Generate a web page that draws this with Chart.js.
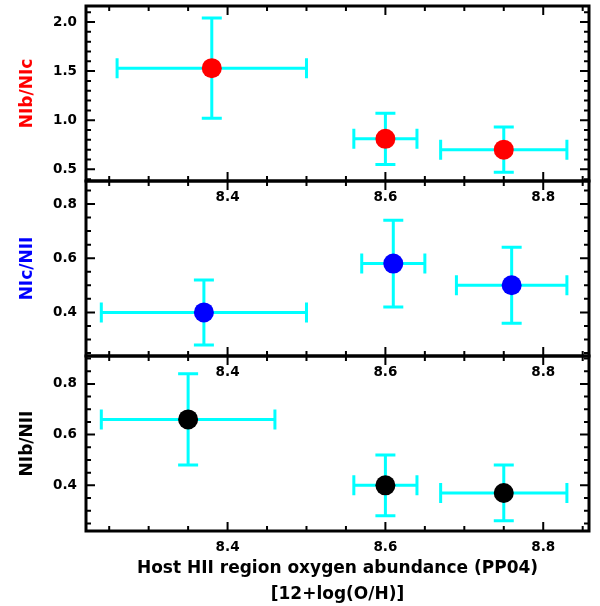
<!DOCTYPE html>
<html>
<head>
<meta charset="utf-8">
<script src="https://cdn.jsdelivr.net/npm/chart.js@4.4.1/dist/chart.umd.min.js"></script>
<style>
  body { margin: 0; width: 600px; height: 606px; overflow: hidden; position: relative; background: #fff; }
  canvas { position: absolute; left: 0; }
</style>
</head>
<body>
<canvas id="p1" width="600" height="211" style="top:0px"></canvas>
<canvas id="p2" width="600" height="211" style="top:175px"></canvas>
<canvas id="p3" width="600" height="256" style="top:350px"></canvas>
<script>
// shared x axis: host HII region oxygen abundance
var xTicks = [8.4, 8.6, 8.8];

// panel 1: NIb/NIc
var abund1 = [8.38, 8.60, 8.75];
var abund1Low = [8.26, 8.56, 8.67];
var abund1High = [8.50, 8.64, 8.83];
var ratio1 = [1.53, 0.81, 0.70];
var ratio1Low = [1.02, 0.55, 0.47];
var ratio1High = [2.04, 1.07, 0.93];
var yTicks1 = [0.5, 1.0, 1.5, 2.0];

// panel 2: NIc/NII
var abund2 = [8.37, 8.61, 8.76];
var abund2Low = [8.24, 8.57, 8.69];
var abund2High = [8.50, 8.65, 8.83];
var ratio2 = [0.40, 0.58, 0.50];
var ratio2Low = [0.28, 0.42, 0.36];
var ratio2High = [0.52, 0.74, 0.64];
var yTicks2 = [0.4, 0.6, 0.8];

// panel 3: NIb/NII
var abund3 = [8.35, 8.60, 8.75];
var abund3Low = [8.24, 8.56, 8.67];
var abund3High = [8.46, 8.64, 8.83];
var ratio3 = [0.66, 0.40, 0.37];
var ratio3Low = [0.48, 0.28, 0.26];
var ratio3High = [0.84, 0.52, 0.48];
var yTicks3 = [0.4, 0.6, 0.8];

var FONT = 'DejaVu Sans';

// cyan error bars with caps, drawn under the points
var errorBarPlugin = {
  id: 'errorBars',
  beforeDatasetsDraw: function(chart) {
    var ctx = chart.ctx, sx = chart.scales.x, sy = chart.scales.y;
    var cap = 10;
    ctx.save();
    ctx.strokeStyle = '#00ffff';
    ctx.lineWidth = 3;
    chart.data.datasets.forEach(function(ds) {
      var e = ds.errorBars;
      ds.data.forEach(function(p, i) {
        var px = sx.getPixelForValue(p.x), py = sy.getPixelForValue(p.y);
        var x0 = sx.getPixelForValue(e.xLow[i]), x1 = sx.getPixelForValue(e.xHigh[i]);
        var y0 = sy.getPixelForValue(e.yLow[i]), y1 = sy.getPixelForValue(e.yHigh[i]);
        ctx.beginPath();
        ctx.moveTo(x0, py); ctx.lineTo(x1, py);
        ctx.moveTo(x0, py - cap); ctx.lineTo(x0, py + cap);
        ctx.moveTo(x1, py - cap); ctx.lineTo(x1, py + cap);
        ctx.moveTo(px, y0); ctx.lineTo(px, y1);
        ctx.moveTo(px - cap, y0); ctx.lineTo(px + cap, y0);
        ctx.moveTo(px - cap, y1); ctx.lineTo(px + cap, y1);
        ctx.stroke();
      });
    });
    ctx.restore();
  }
};

// box frame with inward major/minor ticks on all four sides
var framePlugin = {
  id: 'frame',
  afterDatasetsDraw: function(chart, args, opts) {
    var ctx = chart.ctx, a = chart.chartArea;
    var sx = chart.scales.x, sy = chart.scales.y;
    function isMajor(list, v) {
      return list.some(function(m) { return Math.abs(m - v) < 1e-6; });
    }
    ctx.save();
    ctx.strokeStyle = '#000';
    ctx.lineWidth = 2;
    ctx.beginPath();
    for (var k = Math.ceil(sx.min / opts.xStep); k * opts.xStep <= sx.max; k++) {
      var v = k * opts.xStep, px = sx.getPixelForValue(v);
      var len = isMajor(xTicks, v) ? 9 : 5;
      ctx.moveTo(px, a.bottom); ctx.lineTo(px, a.bottom - len);
      ctx.moveTo(px, a.top); ctx.lineTo(px, a.top + len);
    }
    for (var j = Math.ceil(sy.min / opts.yStep); j * opts.yStep <= sy.max; j++) {
      var w = j * opts.yStep, py = sy.getPixelForValue(w);
      var l2 = isMajor(opts.yTicks, w) ? 9 : 5;
      ctx.moveTo(a.left, py); ctx.lineTo(a.left + l2, py);
      ctx.moveTo(a.right, py); ctx.lineTo(a.right - l2, py);
    }
    ctx.stroke();
    ctx.lineWidth = 3;
    ctx.strokeRect(a.left, a.top, a.right - a.left, a.bottom - a.top);
    ctx.restore();
  }
};

function makePanel(id, p) {
  var pts = p.x.map(function(x, i) { return {x: x, y: p.y[i]}; });
  var xAxis = {
    type: 'linear',
    min: 8.2206,
    max: 8.858,
    grid: {display: false, drawTicks: false},
    border: {display: false},
    afterBuildTicks: function(s) { s.ticks = xTicks.map(function(v) { return {value: v}; }); },
    afterFit: function(s) {
      s.height = p.xHeight;
      s.paddingLeft = 0; s.paddingRight = 0;
    },
    ticks: {
      padding: 8, color: '#000', maxRotation: 0, autoSkip: false,
      font: {family: FONT, weight: 'bold', size: 13.5},
      callback: function(v) { return v.toFixed(1); }
    }
  };
  if (p.xTitle) {
    xAxis.title = {
      display: true,
      text: p.xTitle,
      color: '#000',
      font: {family: FONT, weight: 'bold', size: 17, lineHeight: 1.5},
      padding: {top: 0, bottom: -1}
    };
  }
  return new Chart(document.getElementById(id), {
    type: 'scatter',
    data: {
      datasets: [{
        data: pts,
        pointRadius: 10,
        pointHoverRadius: 10,
        pointBackgroundColor: p.color,
        pointBorderColor: p.color,
        pointBorderWidth: 0,
        errorBars: {xLow: p.xLow, xHigh: p.xHigh, yLow: p.yLow, yHigh: p.yHigh}
      }]
    },
    options: {
      responsive: false,
      animation: false,
      events: [],
      layout: {autoPadding: false, padding: {top: 6, right: 11, left: 0, bottom: 0}},
      plugins: {
        legend: {display: false},
        tooltip: {enabled: false},
        frame: {xStep: 0.05, yStep: p.yStep, yTicks: p.yTicks}
      },
      scales: {
        x: xAxis,
        y: {
          type: 'linear',
          min: p.yMin,
          max: p.yMax,
          grid: {display: false, drawTicks: false},
          border: {display: false},
          afterBuildTicks: function(s) { s.ticks = p.yTicks.map(function(v) { return {value: v}; }); },
          afterFit: function(s) {
            s.width = 86;
            s.paddingTop = 0; s.paddingBottom = 0;
          },
          ticks: {
            padding: 9, color: '#000',
            font: {family: FONT, weight: 'bold', size: 13.5},
            callback: function(v) { return v.toFixed(1); }
          },
          title: {
            display: true,
            text: p.yTitle,
            color: p.color,
            font: {family: FONT, weight: 'bold', size: 17},
            padding: {top: 17, bottom: 0}
          }
        }
      }
    },
    plugins: [errorBarPlugin, framePlugin]
  });
}

makePanel('p1', {
  x: abund1, xLow: abund1Low, xHigh: abund1High,
  y: ratio1, yLow: ratio1Low, yHigh: ratio1High,
  yMin: 0.381, yMax: 2.163, yTicks: yTicks1, yStep: 0.1,
  color: '#ff0000', yTitle: 'NIb/NIc', xHeight: 30
});
makePanel('p2', {
  x: abund2, xLow: abund2Low, xHigh: abund2High,
  y: ratio2, yLow: ratio2Low, yHigh: ratio2High,
  yMin: 0.239, yMax: 0.885, yTicks: yTicks2, yStep: 0.05,
  color: '#0000ff', yTitle: 'NIc/NII', xHeight: 30
});
makePanel('p3', {
  x: abund3, xLow: abund3Low, xHigh: abund3High,
  y: ratio3, yLow: ratio3Low, yHigh: ratio3High,
  yMin: 0.22, yMax: 0.91, yTicks: yTicks3, yStep: 0.05,
  color: '#000000', yTitle: 'NIb/NII', xHeight: 75,
  xTitle: ['Host HII region oxygen abundance (PP04)', '[12+log(O/H)]']
});
</script>
</body>
</html>
